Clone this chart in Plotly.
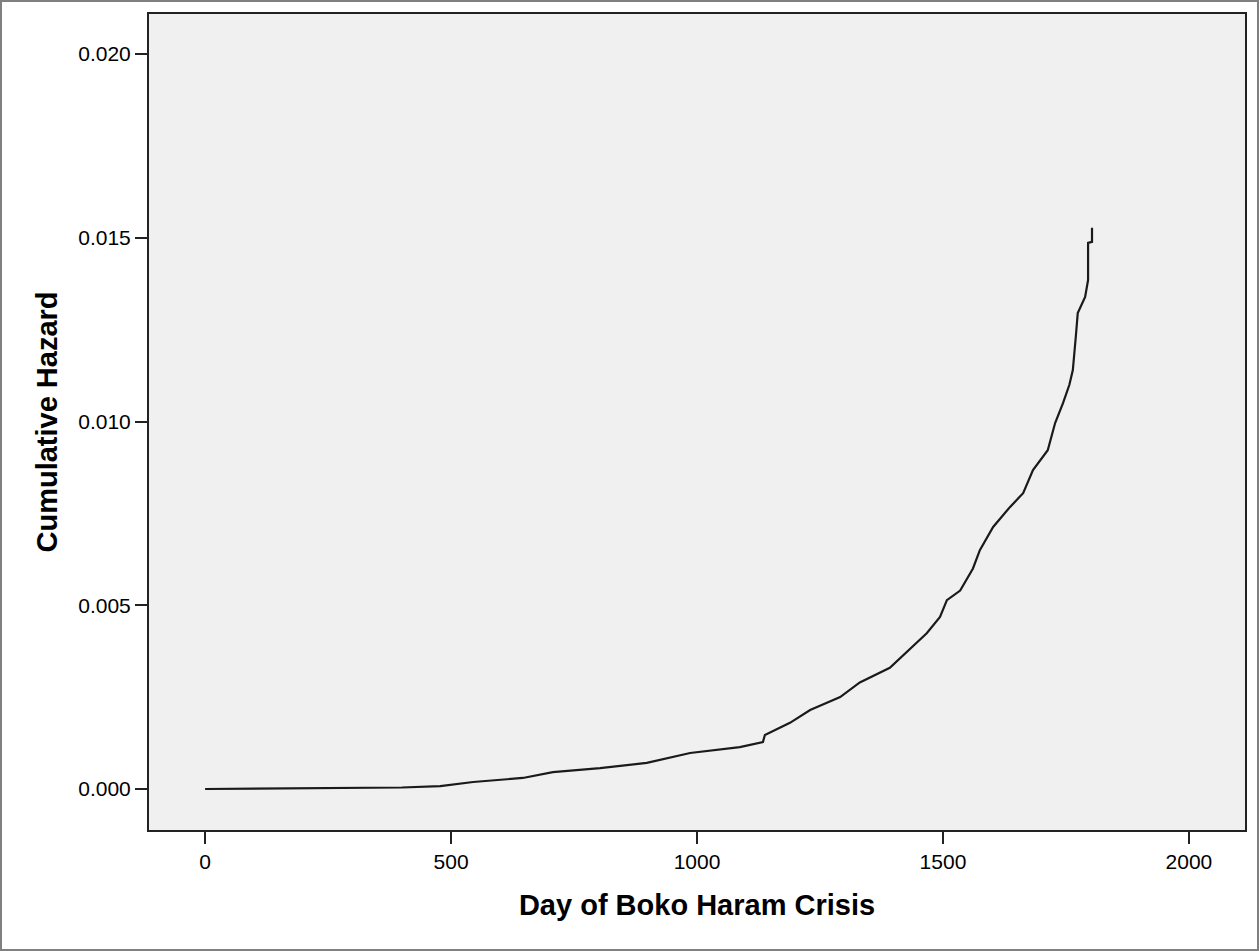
import plotly.graph_objects as go

days = [0, 200, 400, 478, 545, 646, 707, 803, 898, 986, 1087, 1134, 1138, 1189,
        1230, 1291, 1331, 1392, 1439, 1467, 1494, 1508, 1535, 1561, 1575, 1602,
        1636, 1663, 1683, 1713, 1728, 1744, 1757, 1764, 1770, 1774, 1789, 1795,
        1795, 1803, 1803]
hazard = [0.0, 0.00002, 0.00004, 0.00008, 0.00019, 0.00030, 0.00046, 0.00057,
          0.00071, 0.00098, 0.00114, 0.00128, 0.00147, 0.00180, 0.00215, 0.00250,
          0.00290, 0.00330, 0.00390, 0.00424, 0.00468, 0.00514, 0.00540, 0.00600,
          0.00650, 0.00713, 0.00767, 0.00805, 0.00868, 0.00922, 0.00996, 0.01050,
          0.01100, 0.01140, 0.01230, 0.01295, 0.01339, 0.01385, 0.01486, 0.01489,
          0.01527]

x_ticks = [0, 500, 1000, 1500, 2000]
y_ticks = [0.000, 0.005, 0.010, 0.015, 0.020]
y_tick_text = ["0.000", "0.005", "0.010", "0.015", "0.020"]

fig = go.Figure()
fig.add_trace(go.Scatter(x=days, y=hazard, mode="lines",
                         line=dict(color="#1a1a1a", width=2.2),
                         showlegend=False, hoverinfo="x+y"))

font_family = "Liberation Sans, Arial, sans-serif"
fig.update_layout(
    width=1260, height=951,
    margin=dict(l=149, r=15, t=14, b=121),
    paper_bgcolor="white", plot_bgcolor="#f0f0f0",
    font=dict(family=font_family, color="black"),
    xaxis=dict(range=[-114, 2114], tickvals=x_ticks, ticks="outside",
               ticklen=12, tickwidth=2, tickcolor="#222",
               showgrid=False, zeroline=False, showline=True, mirror=True,
               linecolor="#222", linewidth=2,
               tickfont=dict(size=21, family=font_family),
               title=dict(text="<b>Day of Boko Haram Crisis</b>",
                          font=dict(size=29, family=font_family), standoff=22)),
    yaxis=dict(range=[-0.001116, 0.02109], tickvals=y_ticks, ticktext=y_tick_text,
               ticks="outside", ticklen=12, tickwidth=2, tickcolor="#222",
               showgrid=False, zeroline=False, showline=True, mirror=True,
               linecolor="#222", linewidth=2,
               tickfont=dict(size=21, family=font_family),
               title=dict(text="<b>Cumulative Hazard</b>",
                          font=dict(size=29, family=font_family), standoff=12)),
    shapes=[dict(type="rect", xref="paper", yref="paper",
                 x0=-148/1096, x1=1+13/1096, y0=-120/816, y1=1+13/816,
                 line=dict(color="#808080", width=2))],
)

fig.write_html("out.html", config={"displayModeBar": False},
               post_script="document.body.style.margin='0';document.body.style.overflow='hidden';")
